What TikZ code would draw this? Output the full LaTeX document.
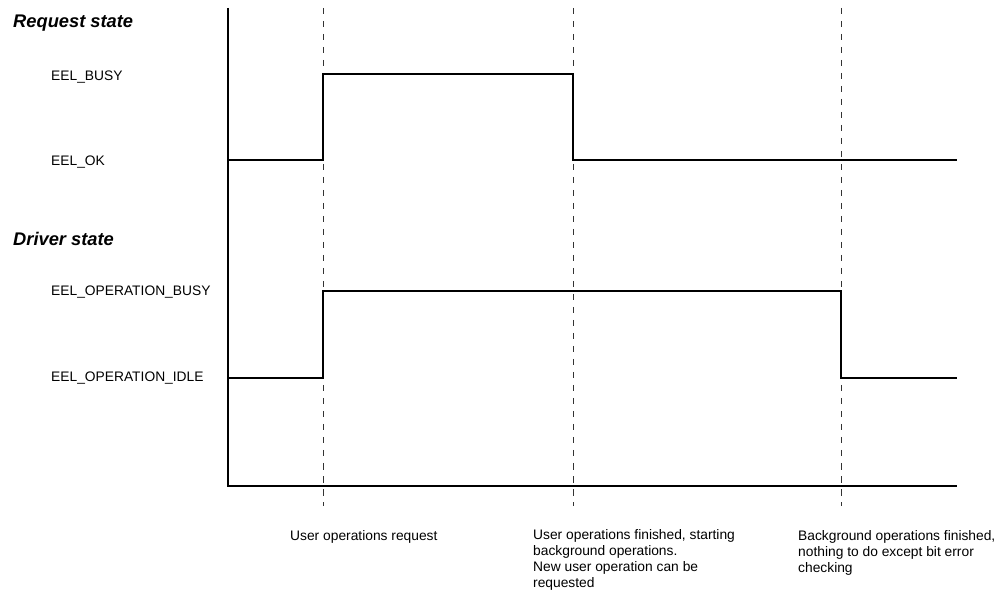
\documentclass[tikz,border=0pt]{standalone}
\usepackage{fontspec}
\setmainfont{Liberation Sans}
\begin{document}
\begin{tikzpicture}[x=1pt,y=-1pt,
  lbl/.style={inner sep=0pt, anchor=base west, font=\fontsize{13.8}{16}\selectfont},
  head/.style={inner sep=0pt, anchor=base west, font=\fontsize{18.3}{21}\selectfont\bfseries\itshape},
  note/.style={lbl, align=left},
  signal/.style={line width=1.8pt, line join=miter},
  guide/.style={line width=0.9pt, black!80, dash pattern=on 6.5pt off 6.5pt}]
\useasboundingbox (0,0) rectangle (1007,593);
% time markers
\coordinate (g1top) at (323,8);  \coordinate (g1bot) at (323,506);
\coordinate (g2top) at (573,8);  \coordinate (g2bot) at (573,506);
\coordinate (g3top) at (841,8);  \coordinate (g3bot) at (841,506);
\draw[guide] (g1top) -- (g1bot);
\draw[guide] (g2top) -- (g2bot);
\draw[guide] (g3top) -- (g3bot);
% axes
\coordinate (axtop) at (228,8);
\coordinate (origin) at (228,486);
\coordinate (axend) at (957,486);
\draw[signal] (axtop) -- (origin) -- (axend);
% request state signal
\coordinate (r0) at (228,160);
\coordinate (r1) at (323,160);
\coordinate (r2) at (323,74);
\coordinate (r3) at (573,74);
\coordinate (r4) at (573,160);
\coordinate (r5) at (957,160);
\draw[signal] (r0) -- (r1) -- (r2) -- (r3) -- (r4) -- (r5);
% driver state signal
\coordinate (d0) at (228,378);
\coordinate (d1) at (323,378);
\coordinate (d2) at (323,291);
\coordinate (d3) at (841,291);
\coordinate (d4) at (841,378);
\coordinate (d5) at (957,378);
\draw[signal] (d0) -- (d1) -- (d2) -- (d3) -- (d4) -- (d5);
% labels
\node[head] (hreq) at (13,28) {Request state};
\node[lbl] (lbusy) at (51,80.5) {EEL\_BUSY};
\node[lbl] (lok) at (51,165.5) {EEL\_OK};
\node[head] (hdrv) at (13,246) {Driver state};
\node[lbl] (lobusy) at (51,295.5) {EEL\_OPERATION\_BUSY};
\node[lbl] (loidle) at (51,382) {EEL\_OPERATION\_IDLE};
\node[lbl] (n1) at (290,540) {User operations request};
\node[note] (n2) at (533,587.5) {User operations finished, starting\\background operations.\\New user operation can be\\requested};
\node[note] (n3) at (798,572) {Background operations finished,\\nothing to do except bit error\\checking};
\end{tikzpicture}
\end{document}
